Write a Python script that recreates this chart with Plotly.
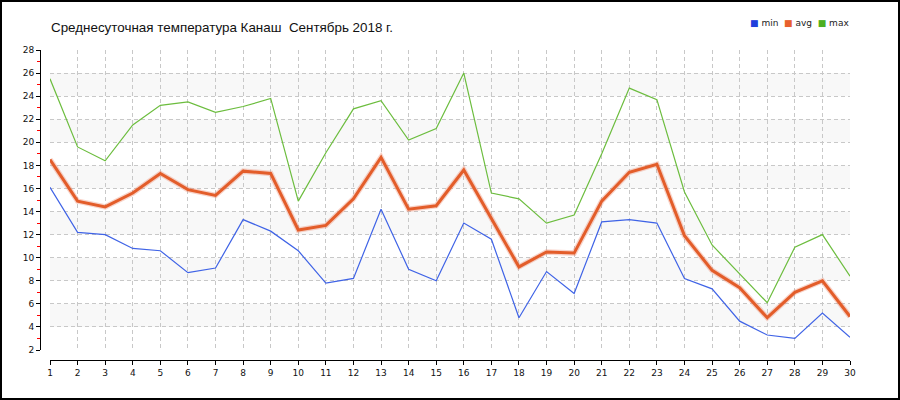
import plotly.graph_objects as go

days = list(range(1, 31))
t_min = [16.1, 12.2, 12.0, 10.8, 10.6, 8.7, 9.1, 13.3, 12.3, 10.6,
         7.8, 8.2, 14.2, 9.0, 8.0, 13.0, 11.6, 4.8, 8.8, 6.9,
         13.1, 13.3, 13.0, 8.2, 7.3, 4.5, 3.3, 3.0, 5.2, 3.1]
t_avg = [18.5, 14.9, 14.4, 15.6, 17.3, 15.9, 15.4, 17.5, 17.3, 12.4,
         12.8, 15.1, 18.7, 14.2, 14.5, 17.6, 13.4, 9.2, 10.5, 10.4,
         14.9, 17.4, 18.1, 11.9, 8.9, 7.4, 4.8, 7.0, 8.0, 4.9]
t_max = [25.5, 19.6, 18.4, 21.5, 23.2, 23.5, 22.6, 23.1, 23.8, 14.9,
         19.1, 22.9, 23.6, 20.2, 21.2, 26.0, 15.6, 15.1, 13.0, 13.7,
         19.0, 24.7, 23.7, 15.7, 11.1, 8.6, 6.1, 10.9, 12.0, 8.4]
band_starts = [4, 8, 12, 16, 20, 24]

title_text = "Среднесуточная температура Канаш  Сентябрь 2018 г."
c_min, c_avg, c_max = "#3f63e6", "#e35d2a", "#6cbd3e"
leg_min, leg_avg, leg_max = "#1f3fdc", "#e8602c", "#4caf20"

W, H = 900, 400
L, R, T, B = 40, 50, 50, 40
pw = W - L - R
ph = H - T - B

def px(xp):
    return (xp - L) / pw

def py(yp):
    return (H - B - yp) / ph

fig = go.Figure()
fig.add_trace(go.Scatter(x=days, y=t_max, mode="lines", line=dict(color=c_max, width=1.2), name="max"))
fig.add_trace(go.Scatter(x=days, y=t_avg, mode="lines", line=dict(color="rgba(235,130,100,0.35)", width=5.5), showlegend=False, hoverinfo="skip"))
fig.add_trace(go.Scatter(x=days, y=t_avg, mode="lines", line=dict(color=c_avg, width=3), name="avg"))
fig.add_trace(go.Scatter(x=days, y=t_min, mode="lines", line=dict(color=c_min, width=1.2), name="min"))

shapes = []
for b in band_starts:
    shapes.append(dict(type="rect", xref="x", yref="y", x0=days[0], x1=days[-1], y0=b, y1=b + 2,
                       fillcolor="#f8f8f8", line=dict(width=0), layer="below"))
# outer frame
shapes.append(dict(type="rect", xref="paper", yref="paper", x0=px(1), x1=px(899), y0=py(1), y1=py(399),
                   line=dict(color="black", width=2), fillcolor="rgba(0,0,0,0)"))

tick_font = dict(family="DejaVu Sans, sans-serif", size=9, color="#111")

fig.update_layout(
    width=W, height=H,
    margin=dict(l=L, r=R, t=T, b=B),
    plot_bgcolor="white", paper_bgcolor="white",
    showlegend=False,
    shapes=shapes,
    xaxis=dict(domain=[10 / pw, 1], range=[1, 30], anchor="free", position=0,
               tickmode="linear", tick0=1, dtick=1,
               showline=True, linecolor="black", linewidth=1,
               ticks="outside", ticklen=4, tickcolor="black",
               showgrid=True, gridcolor="#c8c8c8", griddash="4px,3px", gridwidth=1,
               zeroline=False, tickfont=tick_font),
    yaxis=dict(domain=[10 / ph, 1], range=[2, 28], anchor="free", position=0,
               tickmode="linear", tick0=2, dtick=2,
               showline=True, linecolor="black", linewidth=1,
               ticks="outside", ticklen=4, tickcolor="black",
               minor=dict(tick0=1, dtick=1, ticks="outside", ticklen=3, tickcolor="red", showgrid=False),
               showgrid=True, gridcolor="#c8c8c8", griddash="4px,3px", gridwidth=1,
               zeroline=False, tickfont=tick_font),
    annotations=[
        dict(text=title_text, xref="paper", yref="paper", x=px(49), y=py(28),
             xanchor="left", yanchor="middle", showarrow=False,
             font=dict(family="Liberation Sans, Arial, sans-serif", size=13.4, color="#111")),
        dict(text=(f'<span style="color:{leg_min}">■</span> min  '
                   f'<span style="color:{leg_avg}">■</span> avg  '
                   f'<span style="color:{leg_max}">■</span> max'),
             xref="paper", yref="paper", x=px(748), y=py(23),
             xanchor="left", yanchor="middle", showarrow=False,
             font=dict(family="DejaVu Sans, sans-serif", size=9, color="#222")),
    ],
)

fig.write_html("out.html", config={"displayModeBar": False},
               post_script="document.body.style.margin='0';")
